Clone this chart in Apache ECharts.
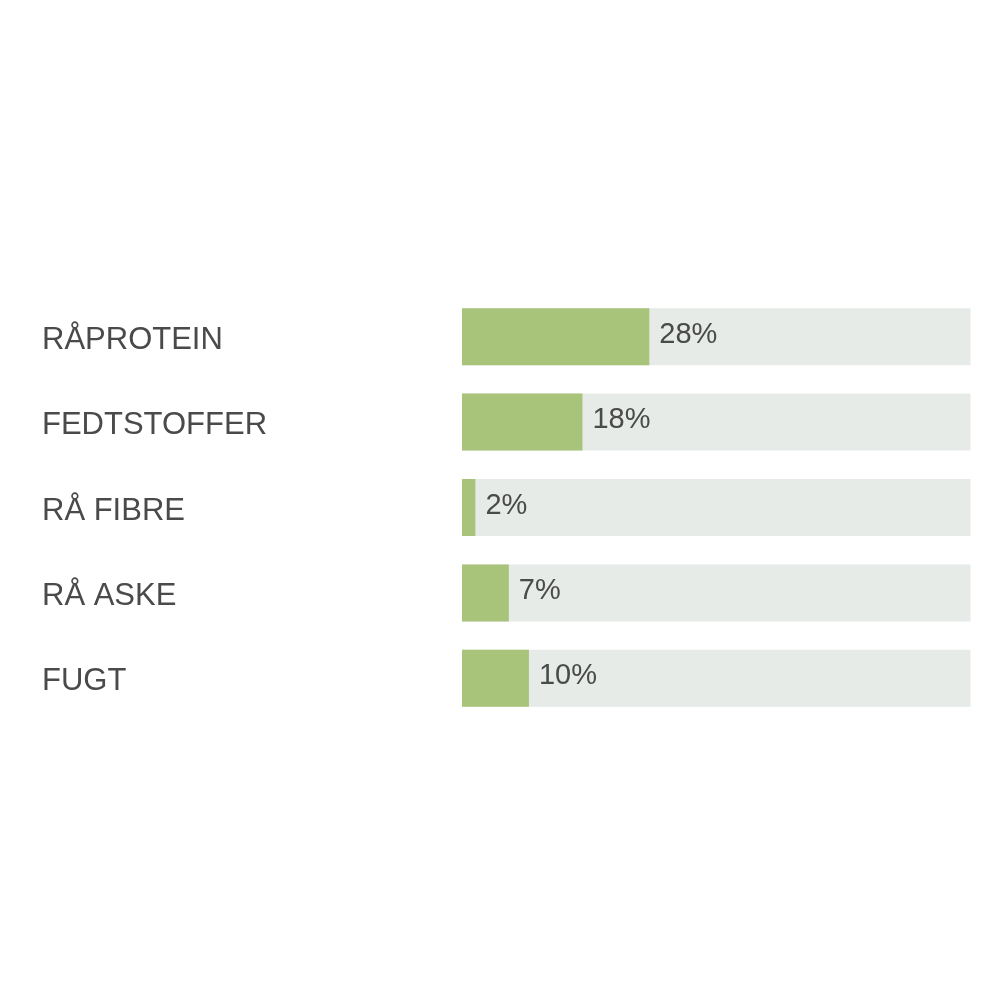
<!DOCTYPE html>
<html><head><meta charset="utf-8">
<script src="https://cdn.jsdelivr.net/npm/echarts@6/dist/echarts.min.js"></script>
<style>html,body{margin:0;padding:0;background:#fff}#c{width:1000px;height:1000px}</style>
</head><body><div id="c"></div>
<script>
const categories = ['RÅPROTEIN', 'FEDTSTOFFER', 'RÅ FIBRE', 'RÅ ASKE', 'FUGT'];
const values = [28, 18, 2, 7, 10];
const axisMax = 76;

const FONT = "'Liberation Sans', Arial, sans-serif";
const chart = echarts.init(document.getElementById('c'), null, {renderer: 'canvas'});
chart.setOption({
  backgroundColor: '#ffffff',
  animation: false,
  grid: {left: 462, right: 29.5, top: 294, bottom: 279, containLabel: false},
  xAxis: {type: 'value', min: 0, max: axisMax, show: false},
  yAxis: {
    type: 'category', inverse: true, data: categories,
    axisLine: {show: false}, axisTick: {show: false}, splitLine: {show: false},
    axisLabel: {align: 'left', margin: 420,
      formatter: '{a|{value}}',
      rich: {a: {fontSize: 31, color: '#4a4a4a', fontFamily: FONT, padding: [7, 0, 0, 0]}}}
  },
  series: [{
    type: 'bar', data: values, barWidth: 57,
    itemStyle: {color: '#a7c47a'},
    showBackground: true,
    backgroundStyle: {color: '#e6ebe7'},
    label: {show: true, position: 'right', distance: 10, offset: [0, -2],
      formatter: '{c}%', fontSize: 29, color: '#4a4a4a',
      fontFamily: FONT}
  }]
});
</script></body></html>
